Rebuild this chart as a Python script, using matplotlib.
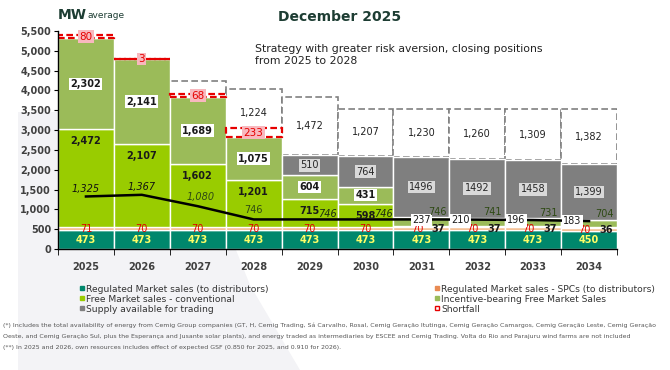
import numpy as np
import matplotlib.pyplot as plt
from matplotlib.patches import Polygon
from matplotlib.lines import Line2D

years = ['2025', '2026', '2027', '2028', '2029', '2030', '2031', '2032', '2033', '2034']
regulated = [473, 473, 473, 473, 473, 473, 473, 473, 473, 450]
regulated_spc = [71, 70, 70, 70, 70, 70, 70, 70, 70, 70]
free_conv = [2472, 2107, 1602, 1201, 715, 598, 37, 37, 37, 36]
incentive = [2302, 2141, 1689, 1075, 604, 431, 237, 210, 196, 183]
supply = [0, 0, 0, 0, 510, 764, 1496, 1492, 1458, 1399]
supply_lbl = ['', '', '', '', '510', '764', '1496', '1492', '1458', '1,399']
shortfall = [80, 3, 68, 233, 0, 0, 0, 0, 0, 0]
open_pos = [0, 0, 410, 1224, 1472, 1207, 1230, 1260, 1309, 1382]
open_lbl = ['', '', '', '1,224', '1,472', '1,207', '1,230', '1,260', '1,309', '1,382']
line_vals = [1325, 1367, 1080, 746, 746, 746, 746, 741, 731, 704]

c_reg = '#00876C'
c_spc = '#F2B27E'
c_free = '#99CC00'
c_inc = '#9BBB59'
c_sup = '#7F7F7F'
c_green_txt = '#2E4A14'

W, H = 670, 370
fig = plt.figure(figsize=(6.7, 3.7), dpi=100)
fig.patch.set_facecolor('white')

# light grey swoosh in background
pts = [(18, 112), (58, 112), (58, 250), (236, 250), (250, 285), (300, 370), (18, 370)]
fig.patches.append(Polygon([(x / W, 1 - y / H) for x, y in pts], closed=True,
                           transform=fig.transFigure, facecolor='#F3F3F6',
                           edgecolor='none', zorder=-5))

ax = fig.add_axes([58 / W, 1 - 249 / H, 559 / W, 218 / H])
ax.set_facecolor('white')
x = np.arange(len(years))
reg = np.array(regulated)
spc = np.array(regulated_spc)
fre = np.array(free_conv)
inc = np.array(incentive)
sup = np.array(supply)

kw = dict(width=1.0, edgecolor='white', linewidth=1.0, zorder=2)
ax.bar(x, reg, color=c_reg, **kw)
ax.bar(x, spc, bottom=reg, color=c_spc, **kw)
b2 = reg + spc
ax.bar(x, fre, bottom=b2, color=c_free, **kw)
b3 = b2 + fre
ax.bar(x, inc, bottom=b3, color=c_inc, **kw)
b4 = b3 + inc
ax.bar(x, sup, bottom=b4, color=c_sup, **kw)
top = b4 + sup

# open positions (dashed boxes)
for i in range(len(years)):
    if open_pos[i] > 0:
        ax.bar(x[i], open_pos[i], bottom=top[i], width=1.0, facecolor='white',
               edgecolor='#808080', linestyle=(0, (4, 2)), linewidth=1.2, zorder=1.5)
        if open_lbl[i]:
            ax.text(x[i], top[i] + open_pos[i] / 2, open_lbl[i], ha='center', va='center',
                    fontsize=7, color='#222222', zorder=6)

# shortfall
for i in range(len(years)):
    if shortfall[i] > 0:
        ax.bar(x[i], shortfall[i], bottom=top[i], width=1.0, facecolor='white',
               edgecolor='#E60000', linestyle=(0, (3, 1.5)), linewidth=1.6, zorder=3)
        ax.text(x[i], top[i] + shortfall[i] / 2, str(shortfall[i]), ha='center', va='center',
                fontsize=7.5, color='#E60000', zorder=7,
                bbox=dict(boxstyle='square,pad=0.12', facecolor='#F8B8BE', edgecolor='none'))

# black line
ax.plot(x, line_vals, color='black', linewidth=1.8, zorder=4)

white_box = dict(boxstyle='square,pad=0.12', facecolor='white', edgecolor='none')
grey_box = dict(boxstyle='square,pad=0.15', facecolor='#D9D9D9', edgecolor='none')

for i in range(len(years)):
    ax.text(x[i], reg[i] / 2, str(regulated[i]), ha='center', va='center', fontsize=7,
            fontweight='bold', color='#FFFF66', zorder=6)
    if i < 6:
        ax.text(x[i], reg[i] + 30, str(regulated_spc[i]), ha='center', va='center',
                fontsize=7, color='#E00000', zorder=6)
        ax.text(x[i], b3[i] - 300, f'{free_conv[i]:,}', ha='center', va='center',
                fontsize=7, fontweight='bold', color='#1A1A1A', zorder=6)
        ax.text(x[i], b3[i] + inc[i] / 2, f'{incentive[i]:,}', ha='center', va='center',
                fontsize=7, fontweight='bold', color='#1A1A1A', zorder=6, bbox=white_box)
    else:
        ax.text(x[i] - 0.08, reg[i] + 30, str(regulated_spc[i]), ha='center', va='center',
                fontsize=7, color='#E00000', zorder=6)
        ax.text(x[i] + 0.3, reg[i] + 30, str(free_conv[i]), ha='center', va='center',
                fontsize=7, fontweight='bold', color='#1A1A1A', zorder=6)
        dx = 0 if i == 6 else -0.3
        ax.text(x[i] + dx, line_vals[i] - 10, str(incentive[i]), ha='center', va='center',
                fontsize=7, color='#1A1A1A', zorder=6, bbox=white_box)
    if supply_lbl[i]:
        ax.text(x[i], b4[i] + sup[i] / 2, supply_lbl[i], ha='center', va='center',
                fontsize=7, color='#262626', zorder=6, bbox=grey_box)

# line value labels
for i, v in enumerate(line_vals):
    if i < 2:
        ax.text(x[i], v + 200, f'{v:,}', ha='center', va='center', fontsize=7,
                style='italic', color='#111111', zorder=6)
    elif i == 2:
        ax.text(x[i] + 0.05, v + 220, f'{v:,}', ha='center', va='center', fontsize=7,
                style='italic', color=c_green_txt, zorder=6)
    elif i == 3:
        ax.text(x[i], v + 240, f'{v:,}', ha='center', va='center', fontsize=7,
                color=c_green_txt, zorder=6)
    elif i < 6:
        ax.text(x[i] + 0.32, v + 140, f'{v:,}', ha='center', va='center', fontsize=7,
                style='italic', color='#1A2A10', zorder=6)
    else:
        ax.text(x[i] + 0.28, v + 180, f'{v:,}', ha='center', va='center', fontsize=7,
                color=c_green_txt, zorder=6)

ax.set_xlim(-0.5, len(years) - 0.5)
ax.set_ylim(0, 5500)
ax.set_yticks(np.arange(0, 5501, 500))
ax.set_yticklabels([f'{v:,}' for v in range(0, 5501, 500)], fontsize=7,
                   fontweight='bold', color='#404040')
ax.set_xticks(x)
ax.set_xticklabels(years, fontsize=7, fontweight='bold', color='#404040')
ax.tick_params(axis='x', which='major', length=0, pad=9)
ax.set_xticks(np.arange(-0.5, len(years), 1.0), minor=True)
ax.tick_params(axis='x', which='minor', length=4, color='black', direction='out')
ax.tick_params(axis='y', length=3, color='black', pad=2)
for s in ['top', 'right']:
    ax.spines[s].set_visible(False)
for s in ['left', 'bottom']:
    ax.spines[s].set_color('black')
    ax.spines[s].set_linewidth(1.0)
    ax.spines[s].set_zorder(8)

# titles
fig.text(340 / W, 1 - 17 / H, 'December 2025', ha='center', va='center', fontsize=10,
         fontweight='bold', color='#1D3D33')
fig.text(58 / W, 1 - 15 / H, 'MW', ha='left', va='center', fontsize=10,
         fontweight='bold', color='#1D3D33')
fig.text(87 / W, 1 - 16 / H, 'average', ha='left', va='center', fontsize=6.5,
         color='#1D3D33')
fig.text(255 / W, 1 - 55 / H, 'Strategy with greater risk aversion, closing positions\nfrom 2025 to 2028',
         ha='left', va='center', fontsize=7.8, color='#222222', linespacing=1.15)

# legend
def h(c, edge=None):
    return Line2D([], [], marker='s', linestyle='none', markersize=3.5,
                  markerfacecolor=c, markeredgecolor=edge or c, markeredgewidth=1)

leg_kw = dict(frameon=False, fontsize=6.6, handletextpad=0.15, labelspacing=0.1,
              borderaxespad=0, handlelength=0.7, labelcolor='#333333')
fig.legend([h(c_reg), h(c_free), h(c_sup)],
           ['Regulated Market sales (to distributors)', 'Free Market sales - conventional',
            'Supply available for trading'],
           loc='upper left', bbox_to_anchor=(75 / W, 1 - 281 / H), **leg_kw)
fig.legend([h('#E98B53'), h(c_inc), h('white', '#E60000')],
           ['Regulated Market sales - SPCs (to distributors)', 'Incentive-bearing Free Market Sales',
            'Shortfall'],
           loc='upper left', bbox_to_anchor=(430 / W, 1 - 281 / H), **leg_kw)

notes = [
    '(*) Includes the total availability of energy from Cemig Group companies (GT, H, Cemig Trading, Sá Carvalho, Rosal, '
    'Cemig Geração Itutinga, Cemig Geração Camargos, Cemig Geração Leste, Cemig Geração',
    'Oeste, and Cemig Geração Sul, plus the Esperança and Jusante solar plants), and energy traded as intermediaries by '
    'ESCEE and Cemig Trading. Volta do Rio and Parajuru wind farms are not included',
    '(**) In 2025 and 2026, own resources includes effect of expected GSF (0.850 for 2025, and 0.910 for 2026).',
]
for k, t in enumerate(notes):
    fig.text(3 / W, 1 - (325 + 11.5 * k) / H, t, ha='left', va='center', fontsize=4.48,
             color='#555555')

fig.savefig('out.png', dpi=100)
